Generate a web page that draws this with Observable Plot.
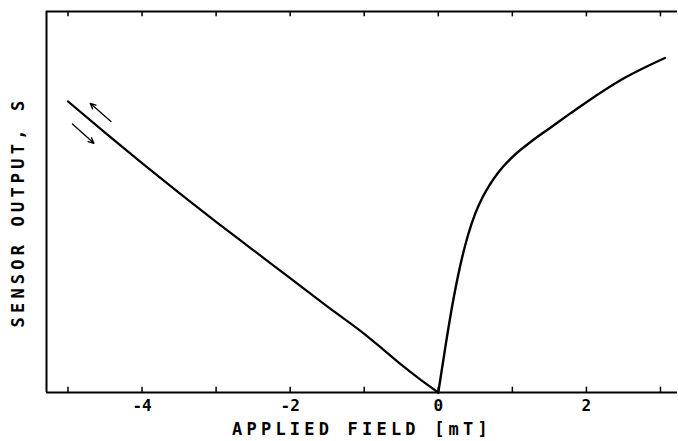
<!DOCTYPE html>
<html>
<head>
<meta charset="utf-8">
<script src="https://cdn.jsdelivr.net/npm/d3@7"></script>
<script src="https://cdn.jsdelivr.net/npm/@observablehq/plot@0.6"></script>
<style>
  html, body { margin: 0; padding: 0; background: #fff; }
  #chart svg { display: block; }
</style>
</head>
<body>
<div id="chart"></div>
<script>
// Left branch (negative field)
const leftField  = [-5.0, -4.5, -4.0, -3.5, -3.0, -2.5, -2.0, -1.5, -1.0, -0.75, -0.5, -0.25, 0];
const leftOutput = [76.4, 68.2, 60.2, 52.4, 44.8, 37.4, 30.0, 22.6, 15.4, 11.4, 7.3, 3.5, 0];
// Right branch (positive field)
const rightField  = [0, 0.1, 0.2, 0.3, 0.4, 0.5, 0.6, 0.7, 0.8, 1.0, 1.25, 1.5, 1.75, 2.0, 2.5, 3.06];
const rightOutput = [0, 12.5, 24.0, 33.6, 41.2, 47.0, 51.3, 54.7, 57.5, 61.8, 65.8, 69.3, 72.8, 76.2, 82.4, 87.8];
// Sweep-direction arrows
const arrowX1 = [-4.42, -4.94];
const arrowY1 = [71.1, 70.5];
const arrowX2 = [-4.70, -4.65];
const arrowY2 = [75.9, 65.4];

const xTicks = [-5, -4, -3, -2, -1, 0, 1, 2, 3];
const xTickLabels = ["", "-4", "", "-2", "", "0", "", "2", ""];
const xDomain = [-5.29, 3.23];
const yDomain = [0, 100];
const tickLen = 1.4; // in output units (~5 px)
const xTitle = "APPLIED FIELD [mT]";
const yTitle = "SENSOR OUTPUT, S";

const left = leftField.map((x, i) => ({x, y: leftOutput[i]}));
const right = rightField.map((x, i) => ({x, y: rightOutput[i]}));
const arrows = arrowX1.map((x, i) => ({x1: x, y1: arrowY1[i], x2: arrowX2[i], y2: arrowY2[i]}));

const font = "'DejaVu Sans Mono', monospace";

const chart = Plot.plot({
  width: 678,
  height: 441,
  marginTop: 11,
  marginBottom: 49,
  marginLeft: 46,
  marginRight: 1,
  style: {fontFamily: font, background: "#fff", color: "#000"},
  x: {domain: xDomain, axis: null},
  y: {domain: yDomain, axis: null},
  marks: [
    // frame: top, bottom, left
    Plot.ruleY([yDomain[0]], {stroke: "#000", strokeWidth: 2}),
    Plot.ruleY([yDomain[1]], {stroke: "#000", strokeWidth: 2}),
    Plot.ruleX([xDomain[0]], {stroke: "#000", strokeWidth: 2}),
    // inward ticks bottom and top
    Plot.ruleX(xTicks, {x: d => d, y1: yDomain[0], y2: yDomain[0] + tickLen, stroke: "#000", strokeWidth: 1.5}),
    Plot.ruleX(xTicks, {x: d => d, y1: yDomain[1], y2: yDomain[1] - tickLen, stroke: "#000", strokeWidth: 1.5}),
    Plot.text(xTicks.filter((d, i) => xTickLabels[i] !== ""), {x: d => d, text: d => xTickLabels[xTicks.indexOf(d)], frameAnchor: "bottom", lineAnchor: "top", dy: 7, fontSize: 16, fontWeight: "bold", fontFamily: font}),
    Plot.text([xTitle], {frameAnchor: "bottom", textAnchor: "middle", lineAnchor: "bottom", dy: 42, fontSize: 17, fontWeight: "bold", fontFamily: font}),
    Plot.text([yTitle], {frameAnchor: "left", textAnchor: "middle", dx: -28, dy: 10, rotate: -90, fontSize: 17, fontWeight: "bold", fontFamily: font}),
    Plot.line(left, {x: "x", y: "y", stroke: "#000", strokeWidth: 2.2, curve: "monotone-x"}),
    Plot.line(right, {x: "x", y: "y", stroke: "#000", strokeWidth: 2.4, curve: "monotone-x"}),
    Plot.arrow(arrows, {x1: "x1", y1: "y1", x2: "x2", y2: "y2", stroke: "#000", strokeWidth: 1.3, headLength: 7, headAngle: 50})
  ]
});
document.getElementById("chart").appendChild(chart);
chart.querySelectorAll("text").forEach(t => {
  if (t.textContent === yTitle || t.textContent === xTitle) t.setAttribute("letter-spacing", "4.2px");
});
</script>
</body>
</html>
